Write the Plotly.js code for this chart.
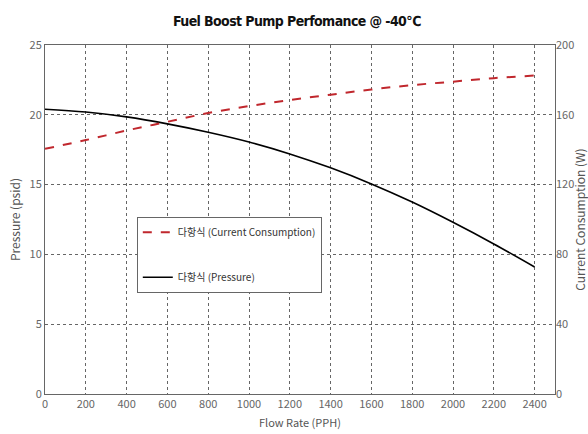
<!DOCTYPE html>
<html><head><meta charset="utf-8">
<script src="https://cdn.plot.ly/plotly-3.0.1.min.js"></script>
<style>html,body{margin:0;padding:0;background:#fff}#c{width:588px;height:434px}
.gtitle{font-stretch:condensed !important;letter-spacing:-0.6px;}</style>
</head><body><div id="c"></div>
<script>
const flowRate = [0, 200, 400, 600, 800, 1000, 1200, 1400, 1600, 1800, 2000, 2200, 2400];
const pressure = [20.4, 20.2, 19.85, 19.35, 18.75, 18.05, 17.2, 16.2, 15.05, 13.75, 12.3, 10.75, 9.1];
const current = [140.5, 145.5, 151, 156, 161, 165, 168.5, 171.5, 174.5, 177, 179, 181, 182.5];
const seriesNames = ["다항식 (Current Consumption)", "다항식 (Pressure)"];
const xTicks = [0, 200, 400, 600, 800, 1000, 1200, 1400, 1600, 1800, 2000, 2200, 2400];
const yTicks = [0, 5, 10, 15, 20, 25];
const y2Ticks = [0, 40, 80, 120, 160, 200];

const fontFam = '"Noto Sans CJK KR", "DejaVu Sans", sans-serif';
const traces = [
  {x: flowRate, y: current, name: seriesNames[0], yaxis: 'y2', mode: 'lines', legendgroup: 'a',
   line: {color: '#c0272d', width: 2, dash: 'dash', shape: 'spline'}},
  {x: flowRate, y: pressure, name: seriesNames[1], mode: 'lines', legendgroup: 'b',
   line: {color: '#000000', width: 1.6, shape: 'spline'}}
];
const gridStyle = {showgrid: true, gridcolor: '#666', griddash: 'dot', gridwidth: 1};
const layout = {
  width: 588, height: 434,
  margin: {l: 45, r: 33, t: 45, b: 40},
  paper_bgcolor: '#fff', plot_bgcolor: '#fff',
  font: {family: fontFam, color: '#555', size: 11},
  title: {text: 'Fuel Boost Pump Perfomance @ -40℃', x: 0.505, xanchor: 'center', y: 0.962,
          font: {family: '"DejaVu Sans Condensed", "DejaVu Sans", sans-serif', size: 14, color: '#111', weight: 'bold'}},
  xaxis: Object.assign({range: [0, 2500], tickvals: xTicks, ticktext: xTicks.map(String),
    title: {text: 'Flow Rate (PPH)', standoff: 9, font: {size: 11, color: '#555'}},
    showline: true, linecolor: '#666', linewidth: 1, mirror: true, zeroline: false,
    ticks: '', tickfont: {size: 11, color: '#666'}}, gridStyle),
  yaxis: Object.assign({range: [0, 25], tickvals: yTicks,
    title: {text: 'Pressure (psid)', standoff: 6, font: {size: 12, color: '#555'}},
    showline: true, linecolor: '#666', linewidth: 1, mirror: true, zeroline: false,
    ticks: '', tickfont: {size: 11, color: '#666'}}, gridStyle),
  yaxis2: {range: [0, 200], tickvals: y2Ticks, overlaying: 'y', side: 'right',
    showgrid: false, zeroline: false, showline: false, ticks: '',
    title: {text: 'Current Consumption (W)', standoff: 16, font: {size: 12, color: '#555'}},
    tickfont: {size: 11, color: '#666'}},
  legend: {x: 0.18, y: 0.508, xanchor: 'left', yanchor: 'top', bgcolor: '#fff',
    bordercolor: '#666', borderwidth: 1, font: {size: 10, color: '#333'},
    tracegroupgap: 26, itemwidth: 30, traceorder: 'grouped'},
  showlegend: true
};
Plotly.newPlot('c', traces, layout, {displayModeBar: false, staticPlot: true});
</script></body></html>
